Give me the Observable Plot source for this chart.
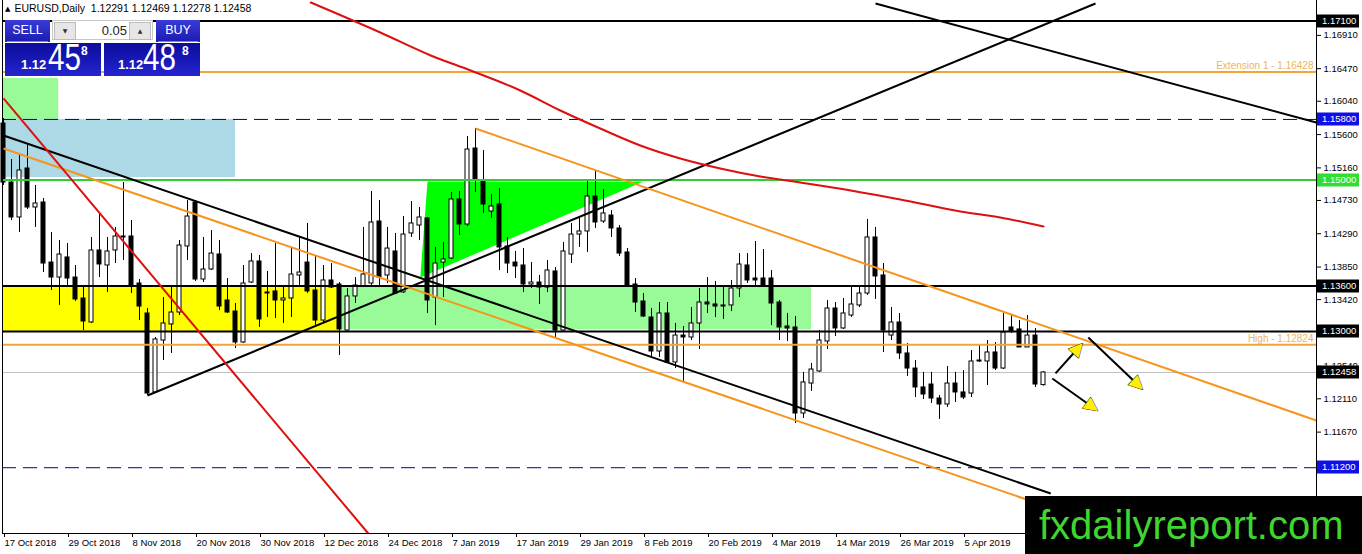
<!DOCTYPE html>
<html>
<head>
<meta charset="utf-8">
<script src="https://cdn.jsdelivr.net/npm/d3@7"></script>
<script src="https://cdn.jsdelivr.net/npm/@observablehq/plot@0.6"></script>
<style>
  body { margin: 0; background: #fff; font-family: "Liberation Sans", Arial, sans-serif; }
  #wrap { position: relative; width: 1362px; height: 554px; overflow: hidden; }
  #chart svg { display: block; }
  .hdr { position: absolute; left: 5px; top: 2px; font-size: 10.5px; white-space: nowrap; }
  .hdr .tri { font-family: "DejaVu Sans"; font-size: 7px; position: relative; top: -1px; margin-right: 4px; }
  .btn { position: absolute; top: 20px; height: 22px; background: linear-gradient(#3a3ad6, #1c1cb4);
         color: #fff; font-size: 12.5px; text-align: center; line-height: 20px; }
  .btn:after { content: ""; position: absolute; left: 2px; right: 2px; bottom: 0; border-bottom: 1px solid #8080e0; }
  .lot { position: absolute; left: 52px; top: 20px; width: 101px; height: 20px; background: #fff; border: 1px solid #c8c8c8; box-sizing: border-box; }
  .lot .b { position: absolute; top: 1px; width: 20px; height: 16px; background: #e6e6e6; border: 1px solid #bcbcbc;
            font-family: "DejaVu Sans"; font-size: 6px; text-align: center; line-height: 16px; color: #333; }
  .lot .v { position: absolute; right: 25px; top: 2px; font-size: 13px; color: #222; }
  .px { position: absolute; top: 43px; height: 33px; background: linear-gradient(#0c0c9c, #2424d0); color: #fff; }
  .px span { position: absolute; line-height: 1; white-space: nowrap; }
  .px .s { font-size: 13px; font-weight: bold; top: 15px; }
  .px .big { font-size: 37px; top: -4px; transform: scaleX(0.8); transform-origin: left top; }
  .px .sup { font-size: 12px; font-weight: bold; top: 2px; }
  .wm { position: absolute; left: 1025px; top: 496px; width: 337px; height: 58px; background: #000;
        color: #3fd62e; font-size: 40px; line-height: 58px; padding-left: 14px; box-sizing: border-box; }
</style>
</head>
<body>
<div id="wrap">
  <div id="chart"></div>
  <div class="hdr"><span class="tri">▲</span>EURUSD,Daily&nbsp; 1.12291 1.12469 1.12278 1.12458</div>
  <div class="btn" style="left:5px;width:45px">SELL</div>
  <div class="lot"><div class="b" style="left:1px">▼</div><div class="v">0.05</div><div class="b" style="right:1px">▲</div></div>
  <div class="btn" style="left:156px;width:44px">BUY</div>
  <div class="px" style="left:5px;width:96px"><span class="s" style="left:16px">1.12</span><span class="big" style="left:43px">45</span><span class="sup" style="left:76px">8</span></div>
  <div class="px" style="left:104px;width:96px"><span class="s" style="left:14px">1.12</span><span class="big" style="left:39px">48</span><span class="sup" style="left:78px">8</span></div>
  <div class="wm">fxdailyreport.com</div>
</div>
<script>
// daily EURUSD bars, 17 Oct 2018 -> 19 Apr 2019 (bar index = position)
const opens = [1.15746,1.14967,1.14505,1.15152,1.14637,1.14703,1.13910,1.13712,1.13977,1.13712,
  1.13435,1.13118,1.14069,1.13871,1.14069,1.14254,1.14254,1.13633,1.13237,1.12194,
  1.12880,1.13092,1.13250,1.14122,1.14703,1.13686,1.13818,1.14016,1.13409,1.13263,
  1.12854,1.13646,1.13924,1.13501,1.13528,1.13409,1.13435,1.13739,1.13910,1.13541,
  1.13144,1.13673,1.13620,1.13012,1.13462,1.13594,1.13633,1.14452,1.13739,1.14056,
  1.13515,1.14294,1.14399,1.14492,1.13448,1.13910,1.13963,1.14743,1.14412,1.15416,
  1.14980,1.14584,1.14677,1.14122,1.13910,1.13871,1.13620,1.13646,1.13580,1.13792,
  1.13012,1.14016,1.14280,1.14320,1.14782,1.14452,1.14531,1.14360,1.14043,1.13620,
  1.13395,1.13184,1.12735,1.13237,1.12590,1.12946,1.12920,1.13105,1.13382,1.13356,
  1.13329,1.13343,1.13567,1.13871,1.13699,1.13699,1.13699,1.13382,1.13065,1.13052,
  1.11916,1.12312,1.12471,1.12867,1.13303,1.13039,1.13210,1.13343,1.13501,1.14241,
  1.13739,1.12946,1.13118,1.12709,1.12510,1.12260,1.12299,1.12114,1.12035,1.12312,
  1.12194,1.12180,1.12603,1.12603,1.12722,1.12510,1.13052,1.13026,1.12788,1.12946,
  1.12291];
const highs = [1.15812,1.15271,1.15350,1.15482,1.14928,1.14756,1.14307,1.14201,1.14161,1.13871,
  1.13607,1.14241,1.14558,1.14241,1.14373,1.14967,1.14465,1.13686,1.13303,1.12920,
  1.13448,1.13580,1.14201,1.14729,1.14729,1.14241,1.14333,1.14201,1.13699,1.13369,
  1.13871,1.14029,1.14003,1.13792,1.14161,1.13607,1.14095,1.14241,1.14426,1.14003,
  1.13871,1.13897,1.13646,1.13567,1.13712,1.14373,1.14848,1.14729,1.14373,1.14294,
  1.14518,1.14716,1.14637,1.14505,1.14109,1.14175,1.14835,1.14848,1.15575,1.15680,
  1.15390,1.14809,1.14888,1.14241,1.14056,1.14095,1.13910,1.13739,1.13937,1.13844,
  1.14175,1.14426,1.14505,1.14980,1.15126,1.14875,1.14597,1.14399,1.14095,1.13699,
  1.13501,1.13303,1.13382,1.13382,1.13105,1.13065,1.13316,1.13567,1.13712,1.13660,
  1.13580,1.13673,1.14029,1.14029,1.14188,1.14082,1.13805,1.13409,1.13237,1.13197,
  1.12458,1.12577,1.13012,1.13409,1.13382,1.13435,1.13580,1.13594,1.14479,1.14373,
  1.13897,1.13316,1.13237,1.12841,1.12616,1.12458,1.12458,1.12154,1.12537,1.12458,
  1.12484,1.12748,1.12827,1.12880,1.12854,1.13237,1.13210,1.13144,1.13210,1.13039,
  1.12469];
const lows = [1.14928,1.14465,1.14307,1.14611,1.14373,1.13778,1.13541,1.13343,1.13580,1.13395,
  1.13012,1.13105,1.13712,1.13515,1.13897,1.13937,1.13501,1.13144,1.12154,1.12180,
  1.12616,1.12709,1.13210,1.13937,1.13660,1.13646,1.13805,1.13277,1.13237,1.12775,
  1.12841,1.13633,1.13052,1.13184,1.13171,1.13105,1.13184,1.13607,1.13501,1.13078,
  1.13118,1.13567,1.12682,1.12986,1.13369,1.13580,1.13607,1.13580,1.13633,1.13488,
  1.13501,1.14241,1.14201,1.13237,1.13078,1.13448,1.13950,1.14267,1.14386,1.14835,
  1.14558,1.14492,1.13805,1.13765,1.13699,1.13515,1.13567,1.13356,1.13515,1.12920,
  1.12999,1.13897,1.14109,1.14043,1.14360,1.14426,1.14241,1.13990,1.13580,1.13250,
  1.13184,1.12656,1.12656,1.12577,1.12510,1.12326,1.12880,1.12762,1.13237,1.13184,
  1.13158,1.13263,1.13448,1.13633,1.13580,1.13594,1.13078,1.12880,1.12867,1.11784,
  1.11850,1.12207,1.12458,1.12762,1.12933,1.13026,1.13184,1.13316,1.13475,1.13422,
  1.12722,1.12880,1.12629,1.12405,1.12127,1.12101,1.12048,1.11837,1.11995,1.12061,
  1.12101,1.12127,1.12590,1.12286,1.12484,1.12497,1.12973,1.12788,1.12788,1.12260,
  1.12278];
const closes = [1.14967,1.14505,1.15126,1.14637,1.14690,1.13897,1.13712,1.14016,1.13699,1.13422,
  1.13131,1.14069,1.13884,1.14056,1.14254,1.14241,1.13607,1.13329,1.12180,1.12894,
  1.13105,1.13250,1.14135,1.14518,1.13686,1.13818,1.14029,1.13329,1.13250,1.12854,
  1.13633,1.13924,1.13158,1.13515,1.13409,1.13435,1.13752,1.13778,1.13528,1.13144,
  1.13673,1.13580,1.13026,1.13462,1.13607,1.13752,1.14439,1.13712,1.14095,1.13501,
  1.14280,1.14426,1.14505,1.13409,1.13897,1.13950,1.14743,1.14412,1.15403,1.14994,
  1.14677,1.14650,1.14109,1.13897,1.13858,1.13620,1.13646,1.13580,1.13805,1.13012,
  1.14056,1.14280,1.14320,1.14782,1.14439,1.14558,1.14360,1.14029,1.13607,1.13382,
  1.13197,1.12735,1.13237,1.12590,1.12946,1.12920,1.13105,1.13382,1.13356,1.13329,
  1.13343,1.13567,1.13884,1.13673,1.13673,1.13607,1.13369,1.13052,1.13039,1.11916,
  1.12326,1.12497,1.12880,1.13303,1.13039,1.13237,1.13356,1.13501,1.14241,1.13726,
  1.13012,1.13118,1.12709,1.12510,1.12260,1.12167,1.12114,1.12035,1.12312,1.12194,
  1.12127,1.12603,1.12616,1.12722,1.12510,1.12986,1.12999,1.12788,1.12946,1.12299,
  1.12458];

// time axis: every 8th bar
const dateTicks = [0,8,16,24,32,40,48,56,64,72,80,88,96,104,112,120];
const dateLabels = ["17 Oct 2018","29 Oct 2018","8 Nov 2018","20 Nov 2018","30 Nov 2018","12 Dec 2018",
  "24 Dec 2018","7 Jan 2019","17 Jan 2019","29 Jan 2019","8 Feb 2019","20 Feb 2019","4 Mar 2019",
  "14 Mar 2019","26 Mar 2019","5 Apr 2019"];
// price scale ticks visible beside the level tags
const priceTicks = [1.16910,1.16470,1.16040,1.15600,1.15160,1.14730,1.14290,1.13850,1.13420,
  1.12540,1.12110,1.11670,1.10790];

// horizontal levels
const blackLevels = [1.17100, 1.13600, 1.13000];
const dashedLevels = [1.15800, 1.11200];
const greenLevels = [1.15000];
const fiboLevels = [1.16428, 1.12824];
const fiboLabels = ["Extension 1 - 1.16428", "High - 1.12824"];
const bidPrice = 1.12458;

// zones (bar index / price)
const zoneTopLeft = [{x1: 0, x2: 6.9, y1: 1.15800, y2: 1.16340}];
const zoneBlue = [{x1: 0, x2: 29, y1: 1.15033, y2: 1.15800}];
const zoneYellow = [{x1: 0, x2: 42.1, y1: 1.13000, y2: 1.13600}];
const zoneGreen = [{x1: 42.1, x2: 101, y1: 1.13020, y2: 1.13590}];
const triangle = [{x: 52.1, y: 1.13712}, {x: 53, y: 1.14980}, {x: 80, y: 1.14980}, {x: 52.1, y: 1.13712}];

// trend lines
const blackTrends = [
  {x1: 0, y1: 1.15588, x2: 130.9, y2: 1.10860},
  {x1: 18, y1: 1.12154, x2: 136.5, y2: 1.17331},
  {x1: 109, y1: 1.17331, x2: 164.1, y2: 1.15760}
];
const orangeTrends = [
  {x1: 0, y1: 1.15416, x2: 129, y2: 1.10740},
  {x1: 59, y1: 1.15680, x2: 164.1, y2: 1.11824}
];
const redTrends = [{x1: 0, y1: 1.16077, x2: 45.6, y2: 1.10331}];
const redCurve = [
  {x: 38.4, y: 1.17345}, {x: 47.1, y: 1.16948}, {x: 53.4, y: 1.16645}, {x: 58.4, y: 1.16446},
  {x: 64.6, y: 1.16182}, {x: 69.6, y: 1.15918}, {x: 74.6, y: 1.15680}, {x: 79.6, y: 1.15456},
  {x: 84.6, y: 1.15284}, {x: 89.6, y: 1.15152}, {x: 94.6, y: 1.15046}, {x: 99.6, y: 1.14967},
  {x: 105.9, y: 1.14862}, {x: 112.1, y: 1.14743}, {x: 119.6, y: 1.14584}, {x: 124.6, y: 1.14505},
  {x: 130, y: 1.14386}
];

// forecast arrows: tail -> head
const arrows = [
  {x1: 131.5, y1: 1.12445, x2: 134.4, y2: 1.12788},
  {x1: 135.6, y1: 1.12920, x2: 141.9, y2: 1.12286},
  {x1: 131.1, y1: 1.12378, x2: 136.2, y2: 1.11995}
];
const arrowAngles = [42, 134, 126];

const candles = opens.map((o, i) => ({i, open: o, high: highs[i], low: lows[i], close: closes[i]}));
const up = candles.filter(d => d.close >= d.open);
const down = candles.filter(d => d.close < d.open);

const orange = "#f7941d";
const fibo = "#f2a43a";
const fmt = d3.format(".5f");

const chart = Plot.plot({
  width: 1362,
  height: 554,
  marginTop: 0,
  marginBottom: 21,
  marginLeft: 2,
  marginRight: 46,
  x: {type: "linear", domain: [-0.125, 164.125]},
  y: {type: "linear", domain: [1.10331, 1.17371]},
  style: {fontFamily: "Liberation Sans, Arial, sans-serif", fontSize: "9.5px", background: "#fff", color: "#000"},
  marks: [
    Plot.rect(zoneTopLeft, {x1: "x1", x2: "x2", y1: "y1", y2: "y2", fill: "#98fb98"}),
    Plot.rect(zoneBlue, {x1: "x1", x2: "x2", y1: "y1", y2: "y2", fill: "#add8e6"}),
    Plot.rect(zoneYellow, {x1: "x1", x2: "x2", y1: "y1", y2: "y2", fill: "#ffff00"}),
    Plot.rect(zoneGreen, {x1: "x1", x2: "x2", y1: "y1", y2: "y2", fill: "#98fb98"}),
    Plot.line(triangle, {x: "x", y: "y", fill: "#00ff00", stroke: "none"}),

    Plot.ruleY([bidPrice], {stroke: "#c0c0c0", strokeWidth: 1}),

    // candles
    Plot.ruleX(candles, {x: "i", y1: "low", y2: "high", stroke: "#000", strokeWidth: 1}),
    Plot.rect(up, {x1: d => d.i - 0.25, x2: d => d.i + 0.25, y1: "open", y2: "close", fill: "#fff", stroke: "#000", strokeWidth: 1}),
    Plot.rect(down, {x1: d => d.i - 0.25, x2: d => d.i + 0.25, y1: "open", y2: "close", fill: "#000", stroke: "#000", strokeWidth: 1}),

    Plot.ruleY(blackLevels, {stroke: "#000", strokeWidth: 2}),
    Plot.ruleY(dashedLevels, {stroke: "#000090", strokeWidth: 1, strokeDasharray: "14,7"}),
    Plot.ruleY(greenLevels, {stroke: "#32cd32", strokeWidth: 2}),
    Plot.ruleY(fiboLevels, {stroke: fibo, strokeWidth: 2}),
    Plot.text(fiboLevels, {y: d => d, text: (d, i) => fiboLabels[i], frameAnchor: "right", textAnchor: "end",
      dx: -3, dy: -6, fill: "#f0b458", fontSize: 10}),

    Plot.link(blackTrends, {x1: "x1", y1: "y1", x2: "x2", y2: "y2", stroke: "#000", strokeWidth: 2}),
    Plot.link(orangeTrends, {x1: "x1", y1: "y1", x2: "x2", y2: "y2", stroke: orange, strokeWidth: 2}),
    Plot.link(redTrends, {x1: "x1", y1: "y1", x2: "x2", y2: "y2", stroke: "#dd1010", strokeWidth: 2}),
    Plot.line(redCurve, {x: "x", y: "y", stroke: "#dd1010", strokeWidth: 2, curve: "monotone-x"}),

    Plot.link(arrows, {x1: "x1", y1: "y1", x2: "x2", y2: "y2", stroke: "#000", strokeWidth: 2}),
    Plot.text(arrows, {x: "x2", y: "y2", text: () => "▲", rotate: (d, i) => arrowAngles[i], fill: "#ffee00",
      stroke: "#000", strokeWidth: 0.8, fontSize: 18, fontFamily: "DejaVu Sans", lineAnchor: "middle"}),

    Plot.axisY({anchor: "right", ticks: priceTicks, tickFormat: fmt, tickSize: 4, tickPadding: 3, label: null}),
    Plot.axisX({anchor: "bottom", ticks: dateTicks, tickFormat: d => dateLabels[dateTicks.indexOf(d)],
      tickSize: 4, tickPadding: 2, textAnchor: "start", dx: 1, label: null})
  ]
});

document.getElementById("chart").append(chart);

// frame lines and price tags on the right scale
const sx = chart.scale("x"), sy = chart.scale("y");
const [left, right] = sx.range;
const bottom = sy.range[0];
const svg = d3.select(chart);
const frame = svg.append("g").attr("stroke", "#000").attr("stroke-width", 1);
frame.append("line").attr("x1", left + 0.5).attr("x2", left + 0.5).attr("y1", 0).attr("y2", bottom);
frame.append("line").attr("x1", right + 0.5).attr("x2", right + 0.5).attr("y1", 0).attr("y2", bottom + 0.5);
frame.append("line").attr("x1", left).attr("x2", right).attr("y1", bottom + 0.5).attr("y2", bottom + 0.5);

const tags = [
  ...blackLevels.map(p => ({p, fill: "#000"})),
  ...[bidPrice].map(p => ({p, fill: "#000"})),
  ...dashedLevels.map(p => ({p, fill: "#1010e6"})),
  ...greenLevels.map(p => ({p, fill: "#32dd32"}))
];
const tag = svg.append("g").attr("text-anchor", "start").selectAll("g").data(tags).join("g")
  .attr("transform", d => `translate(${right + 1},${Math.round(sy.apply(d.p))})`);
tag.append("rect").attr("x", 0).attr("y", -6.5).attr("width", 42).attr("height", 13).attr("fill", d => d.fill);
tag.append("text").attr("x", 5).attr("dy", "0.35em").attr("fill", "#fff").attr("font-size", "9.5px").text(d => fmt(d.p));
</script>
</body>
</html>
